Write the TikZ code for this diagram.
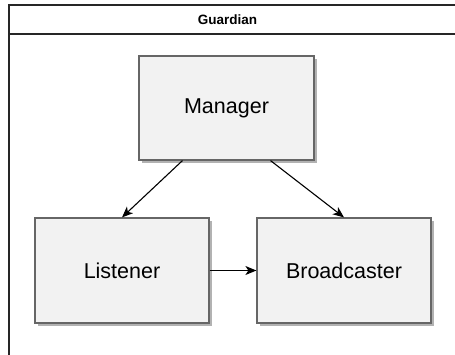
\documentclass[tikz,border=0pt]{standalone}
\usepackage{fontspec}
\setmainfont{Liberation Sans}
\usetikzlibrary{arrows.meta,calc,shadows}
\begin{document}
\begin{tikzpicture}[x=1pt,y=-1pt,
  component/.style={draw=black!60, fill=black!5, line width=1.2pt,
    drop shadow={shadow xshift=3pt, shadow yshift=-3pt, fill=black!30, opacity=1},
    font=\fontsize{21.5}{24}\selectfont, text=black},
  frameline/.style={draw=black!85, line width=1.3pt},
  link/.style={draw=black, line width=1.1pt,
    -{Stealth[length=11pt,width=9pt,inset=3pt]}}]
  \useasboundingbox (0,0) rectangle (455,354);

  % container with title bar
  \coordinate (ftl) at (9,5);
  \coordinate (ftr) at (456,5);
  \coordinate (fbl) at (9,355);
  \coordinate (fsl) at (9,34);
  \coordinate (fsr) at (456,34);
  \draw[frameline] (fbl) -- (ftl) -- (ftr);
  \draw[frameline] (fsl) -- (fsr);
  \node[font=\bfseries\fontsize{13.5}{15}\selectfont] (title) at (227.5,20) {Guardian};

  % components
  \node[component, minimum width=175pt, minimum height=104pt] (mgr) at (226.5,108) {Manager};
  \node[component, minimum width=174pt, minimum height=105pt] (lst) at (122,270.5) {Listener};
  \node[component, minimum width=174pt, minimum height=105pt] (bc) at (344,270.5) {Broadcaster};

  % connections
  \draw[link] ($(mgr.south west)!0.25!(mgr.south east)$) -- (lst.north);
  \draw[link] ($(mgr.south west)!0.75!(mgr.south east)$) -- (bc.north);
  \draw[link] (lst.east) -- (bc.west);
\end{tikzpicture}
\end{document}
